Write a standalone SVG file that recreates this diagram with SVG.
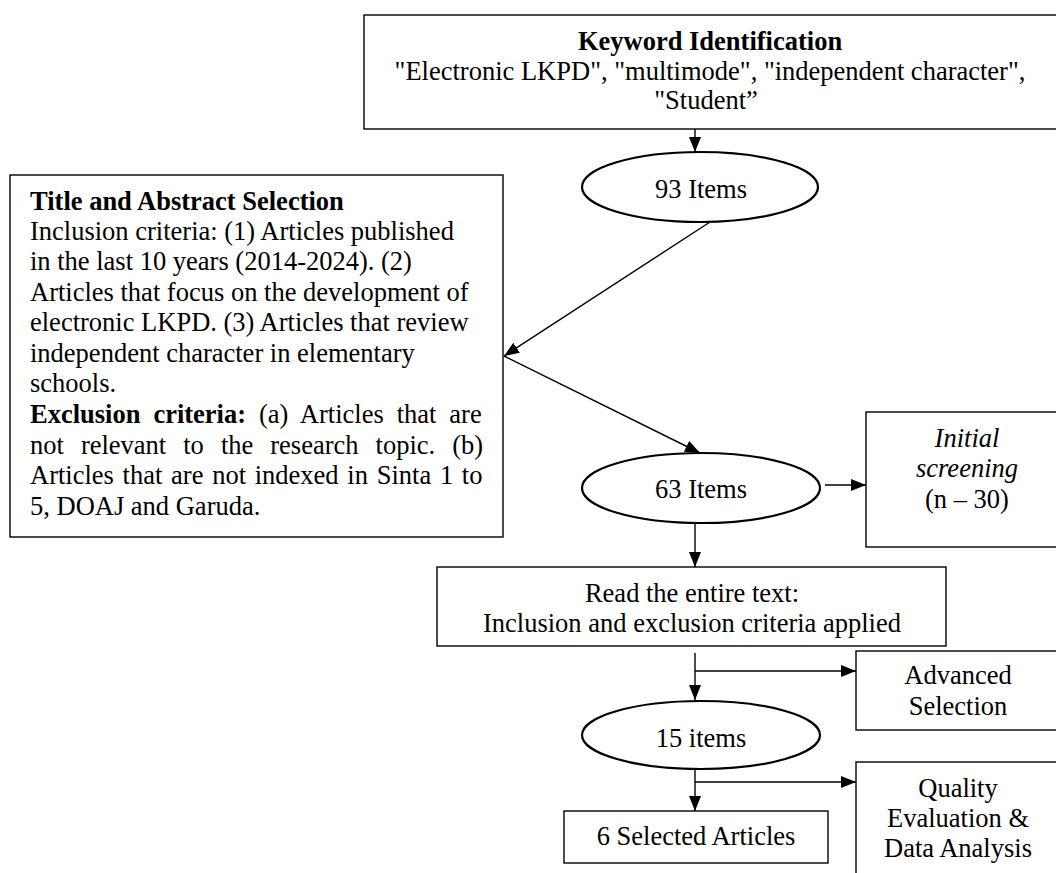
<svg xmlns="http://www.w3.org/2000/svg" width="1056" height="873" viewBox="0 0 1056 873">
<defs>
<style>
text{font-family:"Liberation Serif","Times New Roman",serif;font-size:26.5px;fill:#000}
.b{font-weight:bold}
.i{font-style:italic}
.c{text-anchor:middle}
.box{fill:#fff;stroke:#000;stroke-width:1.4}
.ell{fill:#fff;stroke:#000;stroke-width:2.2}
.ln{fill:none;stroke:#000;stroke-width:1.4}
</style>
<marker id="ah" markerUnits="userSpaceOnUse" markerWidth="15" markerHeight="12" refX="15" refY="6" orient="auto">
<path d="M0,0 L15,6 L0,12 z" fill="#000"/>
</marker>
</defs>
<rect width="1056" height="873" fill="#fff"/>

<g id="keyword">
<rect class="box" x="364" y="15" width="700" height="114"/>
<text class="c b" x="710" y="50">Keyword Identification</text>
<text class="c" x="710" y="80">"Electronic LKPD", "multimode", "independent character",</text>
<text class="c" x="706" y="109">"Student”</text>
</g>

<g id="items93">
<ellipse class="ell" cx="700" cy="187" rx="118" ry="35"/>
<text class="c" x="701" y="198">93 Items</text>
</g>

<g id="title-abstract">
<rect class="box" x="10" y="175" width="493" height="362"/>
<text class="b" x="30" y="210">Title and Abstract Selection</text>
<text x="30" y="240">Inclusion criteria: (1) Articles published</text>
<text x="30" y="270">in the last 10 years (2014-2024). (2)</text>
<text x="30" y="301">Articles that focus on the development of</text>
<text x="30" y="331">electronic LKPD. (3) Articles that review</text>
<text x="30" y="362">independent character in elementary</text>
<text x="30" y="392">schools.</text>
<text x="30" y="423" style="word-spacing:6.3px"><tspan class="b">Exclusion criteria:</tspan> (a) Articles that are</text>
<text x="30" y="454" style="word-spacing:10.4px">not relevant to the research topic. (b)</text>
<text x="30" y="484" style="word-spacing:2.1px">Articles that are not indexed in Sinta 1 to</text>
<text x="30" y="515">5, DOAJ and Garuda.</text>
</g>

<g id="items63">
<ellipse class="ell" cx="701" cy="488" rx="119" ry="35"/>
<text class="c" x="701" y="498">63 Items</text>
</g>

<g id="initial-screening">
<rect class="box" x="866" y="412" width="200" height="135"/>
<text class="c i" x="967" y="447">Initial</text>
<text class="c i" x="967" y="477">screening</text>
<text class="c" x="967" y="508">(n – 30)</text>
</g>

<g id="read-text">
<rect class="box" x="437" y="567" width="509" height="79"/>
<text class="c" x="692" y="602">Read the entire text:</text>
<text class="c" x="692" y="632">Inclusion and exclusion criteria applied</text>
</g>

<g id="advanced-selection">
<rect class="box" x="856" y="651" width="210" height="79"/>
<text class="c" x="958" y="684">Advanced</text>
<text class="c" x="958" y="715">Selection</text>
</g>

<g id="items15">
<ellipse class="ell" cx="701" cy="735" rx="119" ry="34"/>
<text class="c" x="701" y="747">15 items</text>
</g>

<g id="quality">
<rect class="box" x="856" y="762" width="210" height="130"/>
<text class="c" x="958" y="797">Quality</text>
<text class="c" x="958" y="827">Evaluation &amp;</text>
<text class="c" x="958" y="857">Data Analysis</text>
</g>

<g id="selected">
<rect class="box" x="564" y="811" width="264" height="52"/>
<text class="c" x="696" y="845">6 Selected Articles</text>
</g>

<g id="connectors">
<line class="ln" x1="695" y1="129" x2="695" y2="152" marker-end="url(#ah)"/>
<line class="ln" x1="710" y1="222" x2="504" y2="356" marker-end="url(#ah)"/>
<line class="ln" x1="504" y1="356" x2="700" y2="453" marker-end="url(#ah)"/>
<line class="ln" x1="825" y1="485" x2="866" y2="485" marker-end="url(#ah)"/>
<line class="ln" x1="695" y1="523" x2="695" y2="567" marker-end="url(#ah)"/>
<line class="ln" x1="695" y1="653" x2="695" y2="700" marker-end="url(#ah)"/>
<line class="ln" x1="695" y1="671" x2="856" y2="671" marker-end="url(#ah)"/>
<line class="ln" x1="695" y1="770" x2="695" y2="811" marker-end="url(#ah)"/>
<line class="ln" x1="695" y1="782" x2="856" y2="782" marker-end="url(#ah)"/>
</g>
</svg>
